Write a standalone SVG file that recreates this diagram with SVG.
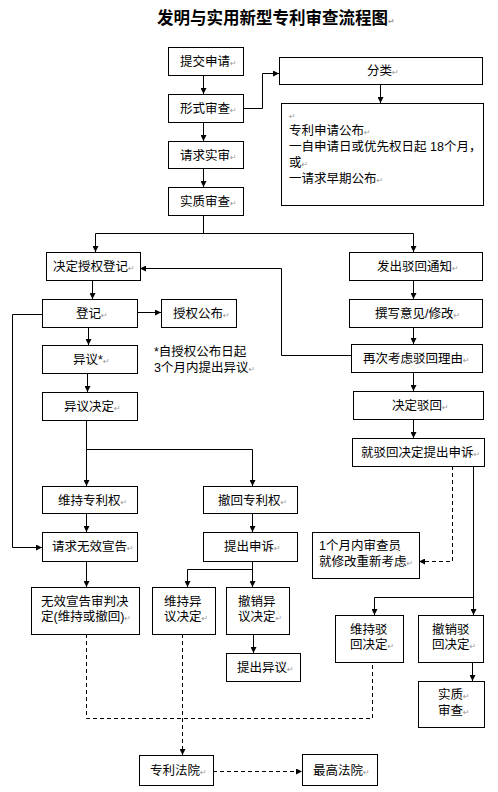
<svg xmlns="http://www.w3.org/2000/svg" width="498" height="792" viewBox="0 0 498 792">
<defs>
<marker id="ah" viewBox="0 0 8 8" refX="8" refY="4" markerWidth="6" markerHeight="6" markerUnits="userSpaceOnUse" orient="auto"><path d="M0,0 L8,4 L0,8 z" fill="#000"/></marker>
<style>
rect{fill:#fff;stroke:#000;stroke-width:1}
text{font-family:"Liberation Sans","Noto Sans CJK SC","DejaVu Sans",sans-serif;font-size:12.5px;fill:#000}
.r{font-family:"DejaVu Sans",sans-serif;font-size:8px;fill:#999}
.title{font-size:16.5px;font-weight:bold}
#connectors path{fill:none;stroke:#000;stroke-width:1}
#connectors .a{marker-end:url(#ah)}
#connectors .d{stroke-dasharray:4,3}
</style>
</defs>
<rect x="0" y="0" width="498" height="792" style="stroke:none"/>
<text class="title" x="157" y="24">发明与实用新型专利审查流程图<tspan class="r">↵</tspan></text>

<g id="connectors">
<path class="a" d="M203.5,75 V94"/>
<path class="a" d="M243,108.5 H262.5 V73.5 H279"/>
<path class="a" d="M380.5,84 V103"/>
<path class="a" d="M203.5,122 V141"/>
<path class="a" d="M203.5,168 V187"/>
<path d="M203.5,215 V233.5 M95.5,233.5 H413.5"/>
<path class="a" d="M95.5,233.5 V252"/>
<path class="a" d="M413.5,233.5 V252"/>
<path class="a" d="M92.5,280 V299"/>
<path class="a" d="M137,312.5 H161"/>
<path class="a" d="M413.5,280 V299"/>
<path class="a" d="M413.5,327 V344"/>
<path class="a" d="M351,355.5 H281.5 V268.5 H140"/>
<path class="a" d="M88.5,327 V345"/>
<path class="a" d="M42,314.5 H12.5 V547.5 H42"/>
<path class="a" d="M87.5,373 V392"/>
<path class="a" d="M413.5,372 V391"/>
<path d="M86.5,420 V449.5 H252.5"/>
<path class="a" d="M86.5,449.5 V486"/>
<path class="a" d="M252.5,449.5 V486"/>
<path class="a" d="M413.5,419 V438"/>
<path class="a" d="M86.5,513 V532"/>
<path class="a" d="M252.5,513 V532"/>
<path class="a d" d="M452.5,466 V561.5 H419"/>
<path class="a" d="M473.5,466 V615"/>
<path class="a" d="M473.5,597.5 H374.5 V615"/>
<path class="a" d="M252.5,561 V587"/>
<path class="a" d="M252.5,569.5 H187.5 V587"/>
<path class="a" d="M86.5,561 V587"/>
<path class="a" d="M253.5,634 V653"/>
<path class="a" d="M472.5,662 V681"/>
<path class="d" d="M86.5,634 V718.5 H372.5 V662"/>
<path class="a d" d="M182.5,634 V755"/>
<path class="a d" d="M213,771.5 H302"/>
</g>

<g id="n1"><rect x="168.5" y="47.5" width="75" height="28"/><text x="180" y="66">提交申请<tspan class="r">↵</tspan></text></g>
<g id="n2"><rect x="279.5" y="57.5" width="203" height="27"/><text x="367" y="75">分类<tspan class="r">↵</tspan></text></g>
<g id="n3"><rect x="168.5" y="94.5" width="75" height="28"/><text x="180" y="113">形式审查<tspan class="r">↵</tspan></text></g>
<g id="n4"><rect x="281.5" y="103.5" width="202" height="102"/>
<text x="289" y="119"><tspan class="r">↵</tspan></text>
<text x="289" y="135">专利申请公布<tspan class="r">↵</tspan></text>
<text x="289" y="151">一自申请日或优先权日起 18个月，</text>
<text x="289" y="167">或<tspan class="r">↵</tspan></text>
<text x="289" y="183">一请求早期公布<tspan class="r">↵</tspan></text></g>
<g id="n5"><rect x="168.5" y="141.5" width="75" height="27"/><text x="180" y="160">请求实审<tspan class="r">↵</tspan></text></g>
<g id="n6"><rect x="168.5" y="187.5" width="75" height="28"/><text x="180" y="206">实质审查<tspan class="r">↵</tspan></text></g>
<g id="n7"><rect x="46.5" y="252.5" width="94" height="28"/><text x="53" y="271">决定授权登记<tspan class="r">↵</tspan></text></g>
<g id="n8"><rect x="349.5" y="252.5" width="133" height="28"/><text x="377" y="271">发出驳回通知<tspan class="r">↵</tspan></text></g>
<g id="n9"><rect x="42.5" y="299.5" width="95" height="28"/><text x="76" y="318">登记<tspan class="r">↵</tspan></text></g>
<g id="n10"><rect x="161.5" y="299.5" width="75" height="28"/><text x="173" y="318">授权公布<tspan class="r">↵</tspan></text></g>
<g id="n11"><rect x="349.5" y="299.5" width="133" height="28"/><text x="375" y="318">撰写意见/修改<tspan class="r">↵</tspan></text></g>
<g id="n12"><rect x="42.5" y="345.5" width="95" height="28"/><text x="73" y="364">异议*<tspan class="r">↵</tspan></text></g>
<g id="note1"><text x="154" y="356">*自授权公布日起</text><text x="154" y="372">3个月内提出异议<tspan class="r">↵</tspan></text></g>
<g id="n13"><rect x="351.5" y="344.5" width="131" height="28"/><text x="363" y="363">再次考虑驳回理由<tspan class="r">↵</tspan></text></g>
<g id="n14"><rect x="42.5" y="392.5" width="95" height="28"/><text x="64" y="411">异议决定<tspan class="r">↵</tspan></text></g>
<g id="n15"><rect x="353.5" y="391.5" width="130" height="28"/><text x="392" y="410">决定驳回<tspan class="r">↵</tspan></text></g>
<g id="n16"><rect x="352.5" y="438.5" width="132" height="28"/><text x="361" y="457">就驳回决定提出申诉<tspan class="r">↵</tspan></text></g>
<g id="n17"><rect x="42.5" y="486.5" width="95" height="27"/><text x="58" y="505">维持专利权<tspan class="r">↵</tspan></text></g>
<g id="n18"><rect x="203.5" y="486.5" width="94" height="27"/><text x="218" y="505">撤回专利权<tspan class="r">↵</tspan></text></g>
<g id="n19"><rect x="42.5" y="532.5" width="95" height="29"/><text x="52" y="551">请求无效宣告<tspan class="r">↵</tspan></text></g>
<g id="n20"><rect x="203.5" y="532.5" width="94" height="29"/><text x="224" y="551">提出申诉<tspan class="r">↵</tspan></text></g>
<g id="n21"><rect x="312.5" y="532.5" width="107" height="46"/><text x="319" y="550">1个月内审查员</text><text x="319" y="566">就修改重新考虑<tspan class="r">↵</tspan></text></g>
<g id="n22"><rect x="31.5" y="587.5" width="108" height="47"/><text x="41" y="606">无效宣告审判决</text><text x="41" y="621">定(维持或撤回)<tspan class="r">↵</tspan></text></g>
<g id="n23"><rect x="152.5" y="587.5" width="63" height="47"/><text x="164" y="606">维持异</text><text x="164" y="621">议决定<tspan class="r">↵</tspan></text></g>
<g id="n24"><rect x="226.5" y="587.5" width="63" height="47"/><text x="238" y="606">撤销异</text><text x="238" y="621">议决定<tspan class="r">↵</tspan></text></g>
<g id="n25"><rect x="335.5" y="615.5" width="68" height="47"/><text x="350" y="634">维持驳</text><text x="350" y="649">回决定<tspan class="r">↵</tspan></text></g>
<g id="n26"><rect x="418.5" y="615.5" width="65" height="47"/><text x="432" y="634">撤销驳</text><text x="432" y="649">回决定<tspan class="r">↵</tspan></text></g>
<g id="n27"><rect x="226.5" y="653.5" width="74" height="28"/><text x="237" y="672">提出异议<tspan class="r">↵</tspan></text></g>
<g id="n28"><rect x="418.5" y="681.5" width="66" height="46"/><text x="438" y="699">实质<tspan class="r">↵</tspan></text><text x="438" y="715">审查<tspan class="r">↵</tspan></text></g>
<g id="n29"><rect x="139.5" y="755.5" width="74" height="30"/><text x="150" y="775">专利法院<tspan class="r">↵</tspan></text></g>
<g id="n30"><rect x="302.5" y="754.5" width="75" height="31"/><text x="313" y="775">最高法院<tspan class="r">↵</tspan></text></g>
</svg>
